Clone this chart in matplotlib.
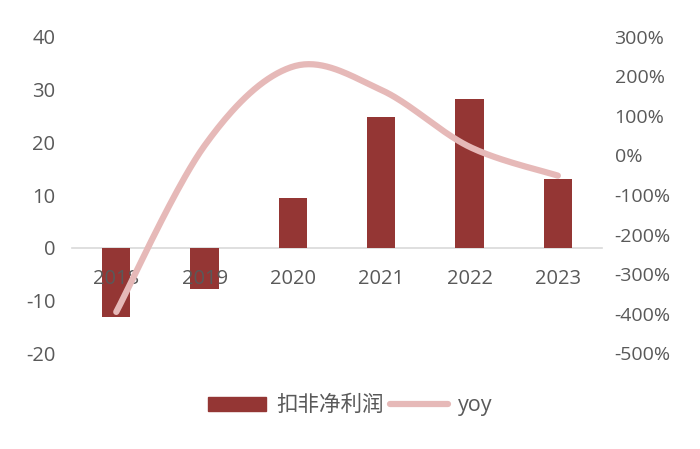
import numpy as np
import matplotlib
matplotlib.use('Agg')
import matplotlib.pyplot as plt
from matplotlib.lines import Line2D
from matplotlib.patches import Patch

plt.rcParams['font.family'] = ['Open Sans', 'Noto Sans CJK SC', 'DejaVu Sans']
plt.rcParams['axes.unicode_minus'] = False

years = ['2018', '2019', '2020', '2021', '2022', '2023']
profit = [-13.1, -7.9, 9.4, 24.8, 28.2, 13.1]
yoy = [-3.96, 0.25, 2.25, 1.66, 0.22, -0.51]
left_ticks = [-20, -10, 0, 10, 20, 30, 40]
right_ticks = [-5, -4, -3, -2, -1, 0, 1, 2, 3]

bar_color = '#943634'
line_color = '#e6b9b8'
text_color = '#595959'


def smooth(xs, ys, n=40):
    # excel-like smoothed line (catmull-rom bezier)
    p = np.column_stack([xs, ys]).astype(float)
    ext = np.vstack([p[0], p, p[-1]])
    out = []
    for i in range(len(p) - 1):
        p0, p1, p2, p3 = ext[i], ext[i + 1], ext[i + 2], ext[i + 3]
        c1 = p1 + (p2 - p0) / 6
        c2 = p2 - (p3 - p1) / 6
        t = np.linspace(0, 1, n)[:, None]
        seg = ((1 - t) ** 3) * p1 + 3 * ((1 - t) ** 2) * t * c1 + 3 * (1 - t) * t ** 2 * c2 + t ** 3 * p2
        out.append(seg if i == 0 else seg[1:])
    out = np.vstack(out)
    return out[:, 0], out[:, 1]


fig = plt.figure(figsize=(7, 4.49), dpi=100)
ax = fig.add_axes([0.103, 0.2138, 0.757, 0.7038])
x = np.arange(len(years))

ax.bar(x, profit, width=0.32, color=bar_color, zorder=2)
ax.set_xlim(-0.5, len(years) - 0.5)
ax.set_ylim(-20, 40)
ax.set_yticks(left_ticks)
ax.set_xticks(x)
ax.set_xticklabels(years)
for s in ['top', 'right', 'left']:
    ax.spines[s].set_visible(False)
ax.spines['bottom'].set_position(('data', 0))
ax.spines['bottom'].set_color('#d9d9d9')
ax.spines['bottom'].set_linewidth(1.2)
ax.spines['bottom'].set_zorder(1)
ax.xaxis.set_zorder(5)
ax.tick_params(axis='x', length=0, pad=15, labelsize=14.5, labelcolor=text_color)
ax.tick_params(axis='y', length=0, pad=12, labelsize=14.5, labelcolor=text_color)

ax2 = ax.twinx()
sx, sy = smooth(x, yoy)
ax2.plot(sx, sy, color=line_color, lw=4.5, solid_capstyle='round', zorder=3)
ax2.set_ylim(-5, 3)
ax2.set_yticks(right_ticks)
ax2.set_yticklabels([f'{int(v * 100)}%' for v in right_ticks])
for s in ax2.spines.values():
    s.set_visible(False)
ax2.tick_params(axis='y', length=0, pad=9, labelsize=14, labelcolor=text_color)

handles = [Patch(color=bar_color), Line2D([], [], color=line_color, lw=4.5, solid_capstyle='round')]
fig.legend(handles, ['扣非净利润', 'yoy'], loc='center', bbox_to_anchor=(0.5, 0.096),
           ncol=2, frameon=False, fontsize=15.5, labelcolor=text_color,
           handlelength=2.7, handleheight=0.65, handletextpad=0.47, columnspacing=0.3)

fig.savefig('out.png', dpi=100)
